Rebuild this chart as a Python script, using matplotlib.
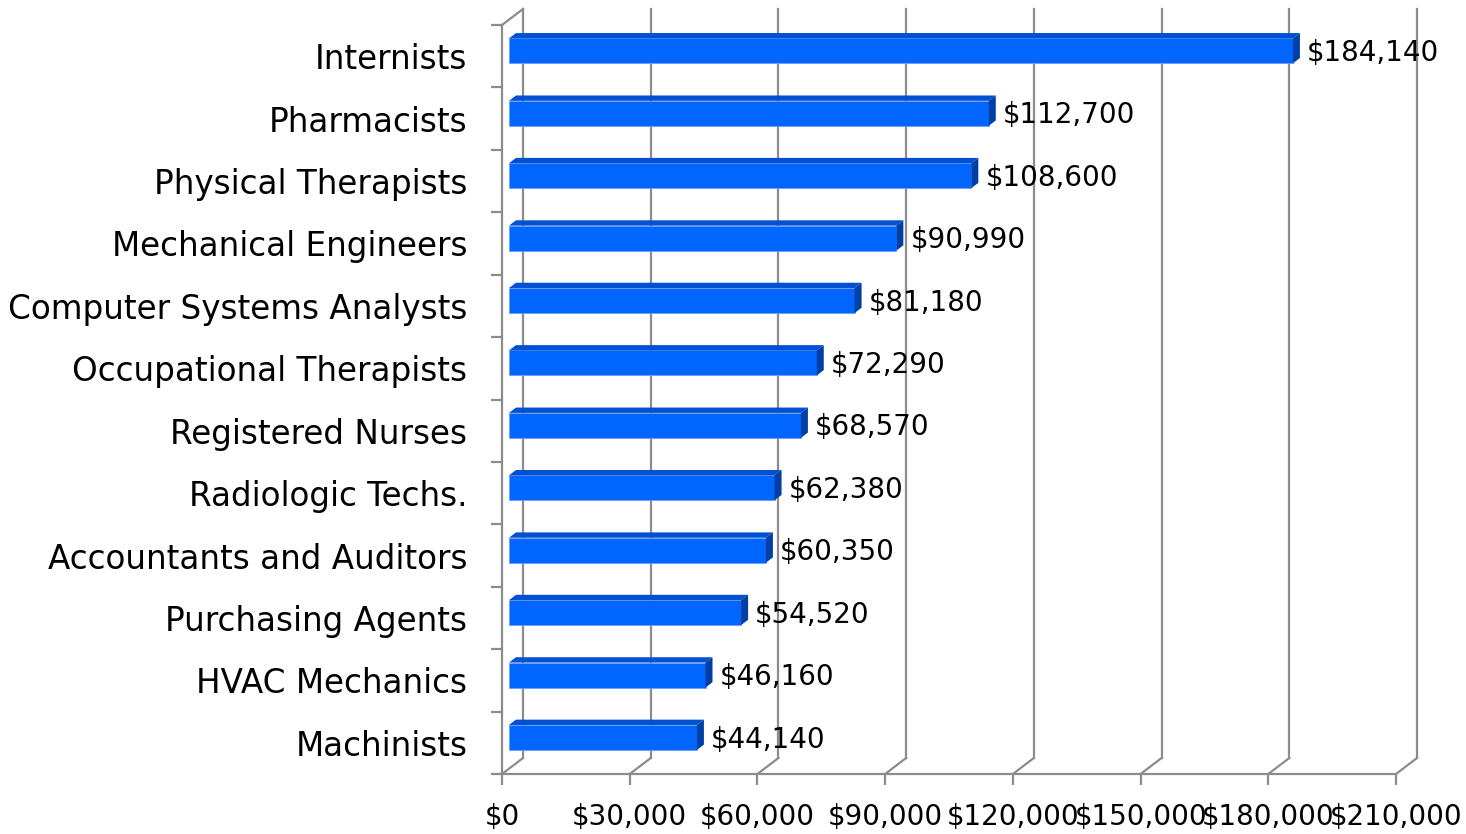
import numpy as np
import matplotlib
matplotlib.use("Agg")
import matplotlib.pyplot as plt
from matplotlib.patches import Polygon
from matplotlib.ticker import FuncFormatter

# data
jobs = ["Internists", "Pharmacists", "Physical Therapists", "Mechanical Engineers",
        "Computer Systems Analysts", "Occupational Therapists", "Registered Nurses",
        "Radiologic Techs.", "Accountants and Auditors", "Purchasing Agents",
        "HVAC Mechanics", "Machinists"]
salaries = [184140, 112700, 108600, 90990, 81180, 72290, 68570, 62380,
            60350, 54520, 46160, 44140]
xticks = [0, 30000, 60000, 90000, 120000, 150000, 180000, 210000]

plt.rcParams['font.family'] = ['DejaVu Sans']

W, H = 1466, 834
fig = plt.figure(figsize=(W / 100, H / 100), dpi=100)
ax = fig.add_axes([502 / W, 1 - 774 / H, 894 / W, 749 / H])
n = len(jobs)
xmax = xticks[-1]
ax.set_xlim(0, xmax)
ax.set_ylim(n - 0.5, -0.5)

# 3d depth offset, px -> data units
sx = xmax / 894
sy = n / 749
DX = 21 * sx
DY = -16 * sy

grid_c = '#8c8c8c'
lw = 1.6

# back wall + floor lines
for t in xticks:
    ax.plot([t + DX, t + DX], [n - 0.5 + DY, -0.5 + DY], color=grid_c, lw=lw, clip_on=False, zorder=1)
    ax.plot([t, t + DX], [n - 0.5, n - 0.5 + DY], color=grid_c, lw=lw, clip_on=False, zorder=1)
# left wall
ax.plot([0, 0], [n - 0.5, -0.5], color=grid_c, lw=lw, clip_on=False, zorder=1)
ax.plot([0, DX], [-0.5, -0.5 + DY], color=grid_c, lw=lw, clip_on=False, zorder=1)

for s in ['top', 'right', 'left']:
    ax.spines[s].set_visible(False)
ax.spines['bottom'].set_color(grid_c)
ax.spines['bottom'].set_linewidth(lw)

# bars
front_c = '#0066ff'
top_c = '#0050d2'
side_c = '#003fa6'
h = 0.4
y = np.arange(n)
ax.barh(y + DY / 3, salaries, left=DX / 3, height=h, color=front_c,
        edgecolor='#6e9cff', linewidth=0.6, zorder=3)
for i, v in enumerate(salaries):
    top = i - h / 2 + DY / 3
    bot = i + h / 2 + DY / 3
    x0 = DX / 3
    x1 = v + DX / 3
    ax.add_patch(Polygon([(x0, top), (x1, top), (x1 + DX / 3, top + DY / 3), (x0 + DX / 3, top + DY / 3)],
                         closed=True, facecolor=top_c, edgecolor='none', zorder=3))
    ax.add_patch(Polygon([(x1, top), (x1 + DX / 3, top + DY / 3), (x1 + DX / 3, bot + DY / 3), (x1, bot)],
                         closed=True, facecolor=side_c, edgecolor='none', zorder=3))
    ax.annotate(f"${v:,}", xy=(x1 + DX / 3, i + DY / 3), xytext=(5, -1.5), textcoords='offset points',
                ha='left', va='center', fontsize=20, color='black', annotation_clip=False)

# ticks
ax.set_xticks(xticks)
ax.xaxis.set_major_formatter(FuncFormatter(lambda v, p: f"${int(v):,}"))
ax.tick_params(axis='x', length=8, width=lw, color=grid_c, pad=13, labelsize=20)
ax.set_yticks(y)
ax.set_yticklabels(jobs)
ax.set_yticks(np.arange(n + 1) - 0.5, minor=True)
ax.tick_params(axis='y', which='major', length=0, pad=25, labelsize=23.5)
ax.tick_params(axis='y', which='minor', length=8, width=lw, color=grid_c)

fig.savefig("out.png", dpi=100)
